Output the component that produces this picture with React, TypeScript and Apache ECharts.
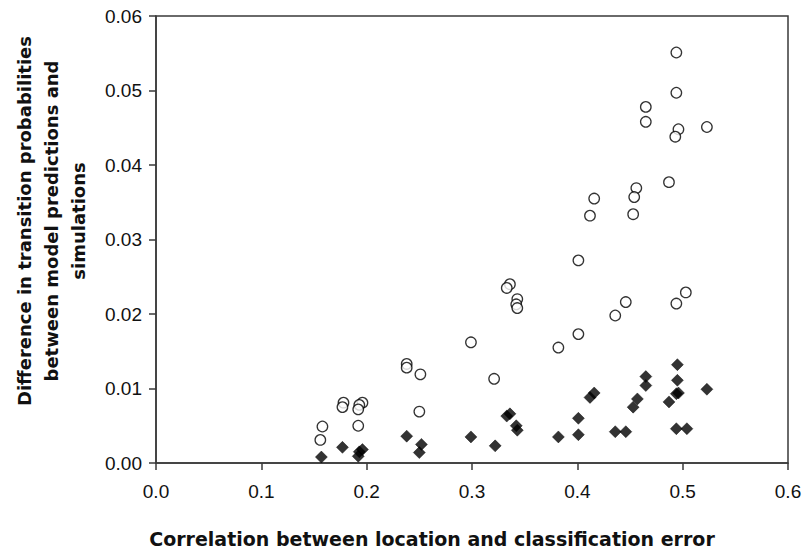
import React, { useEffect, useRef } from "react";
import * as echarts from "echarts";

const xTicks = [0, 0.1, 0.2, 0.3, 0.4, 0.5, 0.6];
const yTicks = [0, 0.01, 0.02, 0.03, 0.04, 0.05, 0.06];

const xTitle = "Correlation between location and classification error";
const yTitleLines = [
  "Difference in transition probabilities",
  "between model predictions and",
  "simulations",
];

// open circles: [correlation, difference]
const openCircles: [number, number][] = [
  [0.158, 0.0049], [0.156, 0.0031], [0.178, 0.0081], [0.177, 0.0075],
  [0.196, 0.0081], [0.193, 0.0078], [0.192, 0.0072], [0.192, 0.005],
  [0.336, 0.024], [0.333, 0.0235], [0.343, 0.022], [0.342, 0.0213],
  [0.343, 0.0208], [0.299, 0.0162], [0.238, 0.0133], [0.238, 0.0128],
  [0.251, 0.0119], [0.321, 0.0113], [0.25, 0.0069],
  [0.494, 0.0551], [0.494, 0.0497], [0.465, 0.0478], [0.465, 0.0458],
  [0.496, 0.0448], [0.493, 0.0438], [0.523, 0.0451], [0.487, 0.0377],
  [0.456, 0.0369], [0.454, 0.0357], [0.416, 0.0355],
  [0.412, 0.0332], [0.453, 0.0334], [0.401, 0.0272], [0.503, 0.0229],
  [0.494, 0.0214], [0.446, 0.0216], [0.436, 0.0198], [0.401, 0.0173],
  [0.382, 0.0155],
];

// filled diamonds: [correlation, difference]
const filledDiamonds: [number, number][] = [
  [0.157, 0.0008], [0.177, 0.0021], [0.196, 0.0018], [0.193, 0.0015],
  [0.192, 0.0009],
  [0.238, 0.0036], [0.252, 0.0025], [0.25, 0.0014], [0.299, 0.0035],
  [0.322, 0.0023], [0.336, 0.0066], [0.333, 0.0063], [0.342, 0.005],
  [0.343, 0.0044],
  [0.495, 0.0132], [0.495, 0.0111], [0.465, 0.0116], [0.465, 0.0104],
  [0.496, 0.0094], [0.494, 0.0093], [0.523, 0.0099], [0.487, 0.0082],
  [0.457, 0.0086], [0.453, 0.0075], [0.436, 0.0042], [0.446, 0.0042],
  [0.494, 0.0046], [0.504, 0.0046], [0.416, 0.0094], [0.412, 0.0088],
  [0.401, 0.006], [0.401, 0.0038], [0.382, 0.0035],
];

const FONT = "'Liberation Sans', Arial, sans-serif";
const TITLE_FONT = "'DejaVu Sans', 'Liberation Sans', sans-serif";
const LINE = "#3a3a3a";

export default function App() {
  const ref = useRef<HTMLDivElement>(null);

  useEffect(() => {
    document.body.style.margin = "0";
    if (!ref.current) return;
    const chart = echarts.init(ref.current, undefined, { renderer: "svg" });
    chart.setOption({
      animation: false,
      backgroundColor: "#ffffff",
      grid: {
        left: 156,
        right: 17,
        top: 16,
        bottom: 89,
        show: true,
        borderColor: LINE,
        borderWidth: 1.5,
        backgroundColor: "transparent",
      },
      xAxis: {
        type: "value",
        min: xTicks[0],
        max: xTicks[xTicks.length - 1],
        interval: 0.1,
        axisLine: { show: true, lineStyle: { color: LINE, width: 1.5 } },
        axisTick: { show: true, inside: false, length: 7, lineStyle: { color: LINE, width: 1.5 } },
        splitLine: { show: false },
        axisLabel: {
          margin: 19,
          fontFamily: FONT,
          fontSize: 19,
          color: "#111",
          formatter: (v: number) => v.toFixed(1),
        },
      },
      yAxis: {
        type: "value",
        min: yTicks[0],
        max: yTicks[yTicks.length - 1],
        interval: 0.01,
        axisLine: { show: true, lineStyle: { color: LINE, width: 1.5 } },
        axisTick: { show: true, inside: false, length: 7, lineStyle: { color: LINE, width: 1.5 } },
        splitLine: { show: false },
        axisLabel: {
          margin: 14,
          fontFamily: FONT,
          fontSize: 19,
          color: "#111",
          formatter: (v: number) => v.toFixed(2),
        },
      },
      graphic: [
        {
          type: "text",
          x: 432,
          y: 539,
          style: {
            text: xTitle,
            font: `bold 19px ${TITLE_FONT}`,
            fill: "#111",
            textAlign: "center",
            textVerticalAlign: "middle",
          },
        },
        {
          type: "text",
          x: 51,
          y: 221,
          rotation: Math.PI / 2,
          style: {
            text: yTitleLines.join("\n"),
            font: `bold 18px ${TITLE_FONT}`,
            fill: "#111",
            textAlign: "center",
            textVerticalAlign: "middle",
            lineHeight: 27,
          },
        },
      ],
      series: [
        {
          type: "scatter",
          name: "diamonds",
          data: filledDiamonds,
          symbol: "diamond",
          symbolSize: 12,
          itemStyle: { color: "#000", borderColor: "#000", borderWidth: 0.5 },
          z: 2,
        },
        {
          type: "scatter",
          name: "circles",
          data: openCircles,
          symbol: "circle",
          symbolSize: 10.5,
          itemStyle: { color: "#ffffff", borderColor: "#000", borderWidth: 1.3 },
          z: 3,
        },
      ],
    });
    return () => chart.dispose();
  }, []);

  return <div ref={ref} style={{ width: 805, height: 552 }} />;
}
